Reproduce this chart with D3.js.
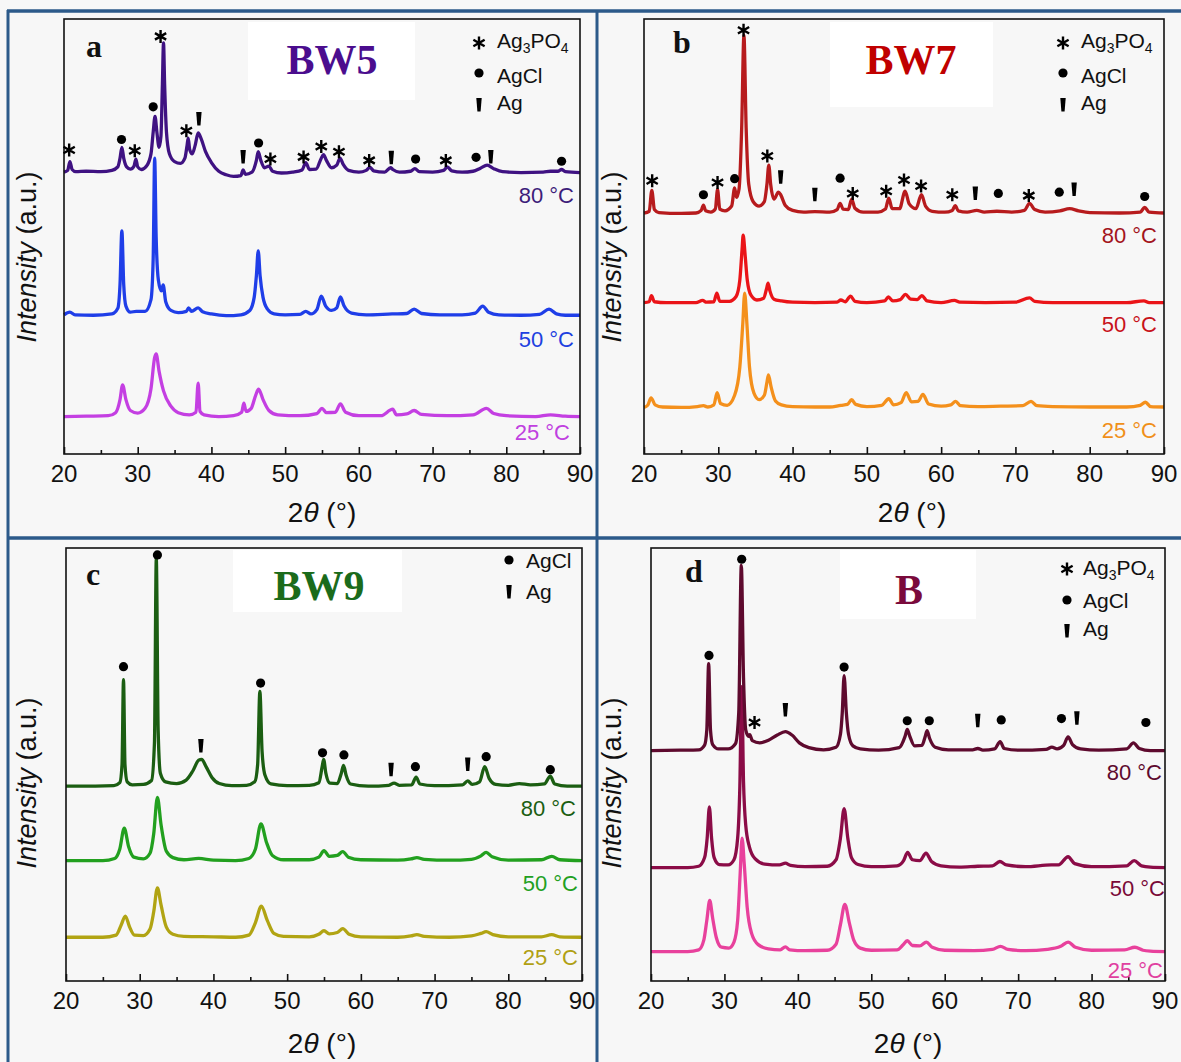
<!DOCTYPE html>
<html><head><meta charset="utf-8">
<script src="https://cdnjs.cloudflare.com/ajax/libs/d3/7.8.5/d3.min.js"></script>
<style>body{margin:0;background:#fff}svg{display:block}</style>
</head><body><svg id="chart" width="1181" height="1062"></svg>
<script>
// ---------------- DATA ----------------
const xTicks = [20,30,40,50,60,70,80,90];
const xMinorTicks = [25,35,45,55,65,75,85];
const temperatureLabels = ["80 °C","50 °C","25 °C"];
const panelLetters = ["a","b","c","d"];
const sampleNames = ["BW5","BW7","BW9","B"];

// Panel a: BW5 (2θ, intensity a.u. incl. stacking offset)
const bw5_80 = [[20,64.8],[20.5,65.2],[20.8,67.2],[21.1,65.4],[21.6,64.9],[23,65],[25,64.9],[26.5,65.2],[27.3,66],[27.6,68],[27.85,70.5],[28.1,68],[28.5,66],[29,65.5],[29.5,66.2],[29.75,67.8],[30,66],[30.5,65.4],[31.2,66.2],[31.8,69],[32.1,74],[32.35,77.6],[32.6,74],[32.9,70.5],[33.15,73],[33.35,85],[33.5,94.5],[33.65,85],[33.9,74],[34.3,69],[35,67.2],[35.8,66.8],[36.4,68],[36.7,71],[36.85,72.6],[37.05,70],[37.4,69],[37.8,71],[38.2,73.8],[38.6,72.5],[39.2,69.5],[40,67],[41,65],[42,64.2],[43,63.8],[44,64],[44.3,65.3],[44.6,64.3],[45.5,64.8],[46.1,67.5],[46.35,69.5],[46.7,67.5],[47.2,65.8],[47.8,66.2],[48.3,65],[49.5,64.6],[51,64.8],[52.3,65.3],[52.8,67],[53.3,65.4],[54.2,65.5],[54.9,68],[55.2,68.8],[55.6,67.5],[56.3,65.8],[57,66.4],[57.45,68],[57.9,66.5],[58.6,65.2],[60,64.8],[61,65.2],[61.5,65.9],[62,65.1],[63.5,64.8],[64.3,65.8],[64.6,65.4],[65.5,64.8],[67,65],[67.6,65.6],[68.2,64.9],[70,64.8],[71.5,65.2],[72,66],[72.6,65.1],[74,64.8],[75.5,65],[76.5,65.7],[77.4,66.4],[78.3,65.6],[79.5,64.9],[82,64.7],[85,64.8],[86,65],[87,65],[87.5,65.4],[88,64.9],[90,64.7]];
const bw5_50 = [[20,32],[20.8,32.6],[21.5,32],[24,31.9],[26.5,32.2],[27.3,33.5],[27.6,39],[27.85,51.3],[28.1,39],[28.4,34],[29,32.6],[29.8,32.8],[31,32.8],[31.8,35.5],[32.1,45],[32.3,68],[32.5,50],[32.8,40],[33.2,37.5],[33.45,38.9],[33.8,35],[34.5,33],[35.5,32.5],[36.6,32.8],[36.9,33.6],[37.3,32.8],[38.2,33.6],[38.8,32.7],[40,32.2],[42,31.8],[44,32],[45.2,33],[45.8,36],[46.1,41],[46.35,46.7],[46.6,41],[47,36],[47.6,33.3],[48.5,32.2],[50,32],[52,32.1],[52.8,32.8],[53.5,32.2],[54.3,33.2],[54.9,36.3],[55.5,34],[56.3,33],[57,33.6],[57.5,36.1],[58,34],[59,32.4],[61,32],[64.5,32.2],[66.5,32.3],[67.5,33.3],[68.5,32.3],[71,32],[74,32],[75.8,32.4],[76.8,34],[77.6,32.6],[79,32],[82,31.9],[84.5,32.1],[85.8,33.3],[86.8,32.2],[88,31.9],[90,31.9]];
const bw5_25 = [[20,8.6],[23,8.7],[26,8.8],[27,9.5],[27.6,12.5],[27.95,15.9],[28.4,12.5],[29,10],[30,9.4],[31,10.5],[31.8,15],[32.3,22.2],[32.5,23],[32.9,19],[33.5,14.5],[34.5,11],[35.5,9.5],[37,9],[37.9,9.6],[38.2,16.3],[38.45,9.8],[39,9],[41,8.6],[43,8.8],[44.1,9.6],[44.4,11.7],[44.7,9.8],[45.4,10.5],[46,13.5],[46.4,14.9],[47,12.5],[47.8,10],[49,9],[52,8.8],[54.3,9.3],[55,10.5],[55.6,9.5],[56.8,9.6],[57.5,11.5],[58.2,9.6],[60,8.8],[63,8.8],[64.6,10.3],[65.1,9],[66.5,9.2],[67.5,10],[68.5,9.1],[72,8.8],[75.5,9],[77.3,10.5],[78.3,9.3],[80,8.8],[84,8.6],[86,9],[88,8.7],[90,8.6]];

// Panel b: BW7
const bw7_80 = [[20,55.4],[20.7,55.8],[21.05,60.6],[21.4,56.2],[22,55.5],[25,55.3],[27,55.4],[27.7,56],[28,57.2],[28.3,55.9],[29,55.6],[29.6,56.3],[29.9,60.8],[30.2,56.3],[30.9,55.9],[31.8,57],[32.2,61.2],[32.45,59],[32.8,61],[33.15,75],[33.45,96.3],[33.75,75],[34.1,62],[34.7,58],[35.5,57],[36.2,58],[36.55,62],[36.8,66.4],[37.05,62],[37.5,58.6],[38.1,60.2],[38.4,59.6],[39,57.2],[40,56],[41.5,55.6],[43,55.7],[45,55.6],[46,56.2],[46.4,57.6],[46.8,56.3],[47.5,56.2],[47.95,58.6],[48.4,56.5],[49.5,55.6],[51.5,55.6],[52.5,56.3],[52.95,58.8],[53.4,56.4],[54.4,56.4],[55.15,60.4],[55.7,57.5],[56.6,56.4],[57.35,59.6],[57.9,57],[58.8,55.8],[60.5,55.6],[61.5,56],[61.9,57.1],[62.3,55.9],[63.5,55.6],[64.8,56],[65.8,55.6],[67.5,55.8],[69.5,55.6],[71.2,56],[71.9,57.6],[72.6,56.2],[74,55.6],[76,55.9],[77.3,56.4],[78.5,55.9],[80,55.5],[84,55.4],[86.8,55.6],[87.4,56.7],[88,55.6],[90,55.4]];
const bw7_50 = [[20,34.8],[20.7,35],[21,36.4],[21.4,35],[23,34.8],[27,34.8],[27.9,35.3],[28.4,34.9],[29.4,35],[29.8,37],[30.2,35.1],[31.5,35.1],[32.4,36.2],[32.9,40],[33.2,47],[33.35,50.3],[33.6,46],[33.9,40],[34.4,36.5],[35.2,35.4],[36.1,35.8],[36.5,38],[36.7,39.3],[36.95,37.5],[37.5,35.6],[38.5,35.2],[40,34.9],[43,34.8],[46,34.9],[46.5,35.4],[47.1,35],[47.8,36.3],[48.4,35.1],[50,34.8],[52.4,35.2],[52.9,36.1],[53.5,35.2],[54.5,35.5],[55.2,36.7],[55.9,35.6],[56.8,35.5],[57.4,36.4],[58.1,35.2],[60,34.8],[61.8,35.3],[62.5,34.9],[66,34.8],[70,34.9],[71.9,35.9],[72.6,35.1],[75,34.8],[80,34.8],[85,34.8],[87.3,35.2],[88,34.8],[90,34.8]];
const bw7_25 = [[20,10.7],[20.5,11.2],[20.95,12.9],[21.5,11.3],[22.5,10.8],[25,10.7],[27.2,10.9],[28,11.1],[28.6,10.8],[29.4,11.3],[29.85,14.1],[30.3,11.6],[31.2,11.2],[32.2,13.5],[32.9,20],[33.3,30],[33.55,37],[33.85,30],[34.2,20],[34.8,14],[35.5,12.5],[36.2,13.5],[36.55,16.5],[36.75,18.2],[37.1,15.5],[37.7,12.2],[38.5,11.3],[40,10.9],[43,10.8],[45,10.8],[46.5,11.2],[47.4,11.4],[47.95,12.5],[48.5,11.4],[50,10.9],[52,11.2],[52.95,12.7],[53.6,11.3],[54.6,11.8],[55.3,14.1],[56,12],[56.9,12.1],[57.55,13.7],[58.3,11.5],[60,11],[61.3,11.3],[61.95,12.1],[62.6,11.1],[65,10.9],[68,11],[71,11.1],[72.1,12.1],[72.9,11.1],[75,10.9],[80,10.8],[85,10.8],[86.8,11.2],[87.5,11.9],[88.2,10.9],[90,10.8]];

// Panel c: BW9
const bw9_80 = [[20,45],[24,45],[26.5,45.1],[27.3,45.8],[27.6,50],[27.8,69.6],[28.0,50],[28.3,46],[29,45.3],[30.5,45.4],[31.6,46.3],[32.0,55],[32.25,97.5],[32.5,58],[32.8,48],[33.5,46],[35,45.6],[36.3,46.4],[37.2,48.5],[38.0,51],[38.4,51.2],[39,49.5],[39.8,47],[40.8,45.6],[42.5,45.1],[44.5,45.2],[45.6,46],[46.0,50],[46.3,66.9],[46.6,53],[47,47.5],[47.8,45.5],[50,45.1],[53,45.2],[54.3,45.8],[54.75,49.5],[54.95,51.2],[55.25,48],[55.8,45.7],[56.8,45.6],[57.35,48],[57.65,49.8],[58,47.5],[58.6,45.5],[61,45],[63.8,45.2],[64.5,45.7],[65.2,45.2],[66.9,45.3],[67.5,47.1],[68,45.5],[70,45.1],[73.8,45.3],[74.5,46.2],[75.1,45.4],[76.1,46],[76.8,49.5],[77.4,46.8],[78.3,45.4],[80,45.2],[81.5,45.6],[83,45.3],[84.9,45.5],[85.7,47.3],[86.3,45.5],[88,45],[90,45]];
const bw9_50 = [[20,27.8],[25,27.8],[26.6,28.3],[27.3,30.5],[27.9,35.3],[28.5,31],[29.2,28.6],[30.5,28.2],[31.4,29.5],[31.9,34],[32.4,42.4],[32.9,36],[33.6,30],[34.5,28.5],[36,28],[38,28.3],[40,27.9],[43,27.8],[44.8,28.3],[45.7,30.5],[46.45,36.3],[47.2,32],[48,29],[49.5,28],[53,28],[54.3,28.6],[55,30.1],[55.7,28.8],[56.8,29],[57.55,29.9],[58.3,28.6],[60,28],[65,27.9],[66.8,28.2],[67.6,28.5],[68.6,28.1],[72,27.9],[75,28.1],[76.3,28.9],[77,29.7],[77.8,28.7],[80,27.9],[84.5,28],[85.9,28.8],[87,28],[90,27.8]];
const bw9_25 = [[20,10.1],[25,10.1],[26.8,10.6],[27.5,13],[28.05,15],[28.6,12.6],[29.3,10.6],[30.5,10.5],[31.4,12],[31.9,16],[32.4,21.5],[32.9,17.5],[33.6,12.5],[34.5,10.8],[36,10.3],[40,10.2],[43,10.1],[44.8,10.6],[45.7,13.5],[46.5,17.3],[47.3,14],[48.2,11],[49.5,10.3],[53,10.2],[54.3,10.8],[55,11.6],[55.7,10.9],[56.8,11.2],[57.55,12.1],[58.4,10.8],[60,10.2],[65,10.1],[66.8,10.4],[67.6,10.7],[68.6,10.3],[72,10.1],[75,10.4],[76.3,11],[77,11.4],[77.9,10.7],[80,10.2],[84.5,10.2],[85.9,10.7],[87,10.2],[90,10.1]];

// Panel d: B
const b_80 = [[20,53.2],[24,53.3],[26.5,53.4],[27.3,54.5],[27.6,58],[27.85,73.3],[28.1,58],[28.4,54.6],[29.2,53.6],[30.5,53.6],[31.5,54.8],[31.95,62],[32.3,96],[32.6,70],[32.9,58],[33.3,56.5],[33.45,56.9],[33.8,55.5],[34.8,55],[36,55.6],[37.2,56.8],[38.3,57.6],[39.2,56.8],[40.2,55],[41.5,53.9],[43.5,53.4],[45.2,54],[45.8,57],[46.05,62],[46.3,70.5],[46.6,62],[46.9,57],[47.5,54.3],[48.5,53.6],[51,53.3],[53.8,53.9],[54.6,56.5],[54.9,58.1],[55.25,56.5],[55.9,54.3],[56.9,54.4],[57.35,56.5],[57.6,57.8],[57.95,56],[58.7,54],[60.5,53.4],[63.8,53.4],[64.5,53.7],[65.2,53.3],[66.8,53.6],[67.55,55.3],[68.1,53.7],[70,53.3],[73.8,53.5],[74.6,54],[75.3,53.6],[76.2,54.4],[76.8,56.4],[77.4,54.6],[78.5,53.6],[81,53.3],[84.8,53.6],[85.7,55],[86.5,53.7],[88,53.2],[90,53.2]];
const b_50 = [[20,26.2],[25,26.2],[26.5,26.5],[27.3,28.5],[27.65,33],[27.95,40.2],[28.25,33],[28.6,28.5],[29.3,26.9],[30.5,26.8],[31.3,28],[31.8,33],[32.1,45],[32.35,68],[32.6,46],[32.9,36],[33.4,31],[34.2,28.2],[35.5,27],[37.5,26.8],[38.3,27.2],[39,26.7],[41,26.4],[44,26.5],[45.2,28],[45.8,33],[46.3,39.8],[46.8,33],[47.3,28.5],[48.2,26.9],[50,26.4],[53.5,26.6],[54.4,27.8],[54.95,29.7],[55.6,28],[56.6,27.8],[57.45,29.5],[58.2,27.6],[59.5,26.6],[62,26.3],[64.5,26.5],[66.5,26.6],[67.5,27.6],[68.4,26.8],[71,26.4],[74.5,26.8],[75.5,26.8],[76.8,28.7],[77.7,27.1],[80,26.4],[84.8,26.6],[85.8,27.8],[86.8,26.6],[88,26.3],[90,26.2]];
const b_25 = [[20,6.8],[25,6.8],[26.5,7.2],[27.2,9.5],[27.6,14],[28.0,18.6],[28.4,14.5],[28.9,10],[29.6,7.8],[30.6,7.6],[31.3,9],[31.8,14],[32.15,25],[32.4,33],[32.7,27],[33.1,17],[33.7,11],[34.6,8.4],[36,7.4],[37.6,7.2],[38.3,7.9],[38.9,7.2],[41,7],[44,7.1],[45.2,8.5],[45.8,13],[46.4,17.7],[47,13.5],[47.6,9.5],[48.5,7.6],[50,7.1],[53.5,7.2],[54.3,8.3],[54.9,9.3],[55.6,8.2],[56.6,8.1],[57.5,9],[58.3,7.8],[60,7.1],[64,7],[66.5,7.3],[67.6,8],[68.6,7.3],[71,7],[74,7.3],[75.8,8],[76.8,9],[77.8,7.8],[80,7.1],[84.5,7.2],[85.9,7.8],[87,7.1],[88,6.9],[90,6.8]];

// Phase markers: [2θ, a.u. position, phase]  s = Ag3PO4, d = AgCl, b = Ag
const bw5_markers = [[20.7,69.9,"s"],[27.8,72.3,"d"],[29.6,69.7,"s"],[32.1,79.8,"d"],[33.1,96.0,"s"],[36.6,74.3,"s"],[38.3,77.0,"b"],[44.3,68.3,"b"],[46.4,71.5,"d"],[48.0,67.8,"s"],[52.5,68.3,"s"],[54.9,70.7,"s"],[57.3,69.5,"s"],[61.4,67.5,"s"],[64.4,68.1,"b"],[67.7,67.8,"d"],[71.8,67.5,"s"],[75.9,68.2,"d"],[77.9,68.3,"b"],[87.5,67.3,"d"]];
const bw7_markers = [[21.1,62.8,"s"],[28.0,59.6,"d"],[29.9,62.4,"s"],[32.2,63.3,"d"],[33.4,97.4,"s"],[36.6,68.5,"s"],[38.4,63.6,"b"],[43.0,59.6,"b"],[46.4,63.4,"d"],[48.1,59.9,"s"],[52.6,60.4,"s"],[55.0,63.0,"s"],[57.3,61.6,"s"],[61.5,59.6,"s"],[64.6,59.9,"b"],[67.7,59.9,"d"],[71.8,59.4,"s"],[75.9,60.2,"d"],[77.9,60.8,"b"],[87.4,59.2,"d"]];
const bw9_markers = [[27.8,72.6,"d"],[32.4,98.4,"d"],[38.3,54.3,"b"],[46.4,68.8,"d"],[54.8,52.7,"d"],[57.7,52.2,"d"],[64.1,48.8,"b"],[67.4,49.5,"d"],[74.5,50.0,"b"],[77.0,51.8,"d"],[85.7,48.8,"d"]];
const b_markers = [[27.9,75.2,"d"],[32.35,97.4,"d"],[34.1,59.7,"s"],[38.3,62.6,"b"],[46.3,72.5,"d"],[54.9,60.1,"d"],[57.9,60.1,"d"],[64.5,60.1,"b"],[67.7,60.3,"d"],[75.9,60.6,"d"],[78.0,60.7,"b"],[87.4,59.7,"d"]];

const legendPhases = [["s","d","b"],["s","d","b"],["d","b"],["s","d","b"]];

// ---------------- STYLE / LAYOUT ----------------
const panels = [
  {series:[bw5_80,bw5_50,bw5_25], markers:bw5_markers, colors:["#3f1282","#1f3ee8","#c43fe2"], labelColors:["#3d1d7a","#2040e0","#c040e0"], titleColor:"#4b0d8e",
   x0:64,x1:580,y0:19,y1:454, tickY:482, xTitle:[322,522], yTitle:[27,257], letter:[94,57], box:[248,22,167,78], titleXY:[332,74],
   labels:[[574,195],[574,339],[570,432]], legend:[479,497,[43,73,105],[48,83,110]]},
  {series:[bw7_80,bw7_50,bw7_25], markers:bw7_markers, colors:["#b71b1d","#ea1418","#f4901c"], labelColors:["#a3141c","#c8121a","#f0901a"], titleColor:"#c00000",
   x0:644,x1:1164,y0:19,y1:454, tickY:482, xTitle:[912,522], yTitle:[612,257], letter:[682,53], box:[830,22,163,85], titleXY:[911,74],
   labels:[[1157,235],[1157,324],[1157,430]], legend:[1063,1081,[43,73,105],[48,83,110]]},
  {series:[bw9_80,bw9_50,bw9_25], markers:bw9_markers, colors:["#1b5e12","#22a01f","#b1a413"], labelColors:["#1b5e12","#22a01f","#b0a014"], titleColor:"#1b6b1b",
   x0:66,x1:582,y0:548,y1:981, tickY:1009, xTitle:[322,1053], yTitle:[27,783], letter:[93,585], box:[233,550,169,62], titleXY:[319,600],
   labels:[[576,808],[578,883],[578,957]], legend:[509,526,[560,592],[568,599]]},
  {series:[b_80,b_50,b_25], markers:b_markers, colors:["#5e0a2e","#8b0c47","#e8419c"], labelColors:["#5e0a2e","#7a0a38","#e040a0"], titleColor:"#7a0a3c",
   x0:651,x1:1165,y0:548,y1:981, tickY:1009, xTitle:[908,1053], yTitle:[612,783], letter:[694,582], box:[840,550,136,69], titleXY:[909,604],
   labels:[[1162,772],[1165,888],[1163,970]], legend:[1067,1083,[569,600,631],[575,608,636]]}
];

const FONT = "Arial, 'Liberation Sans', Helvetica, sans-serif";
const SERIF = "'Times New Roman', 'Liberation Serif', serif";
const svg = d3.select("#chart");

svg.append("rect").attr("width",1181).attr("height",1062).attr("fill","#f7f7f7");

function drawMarker(g, type, x, y) {
  if (type === "s") {
    const r = 6.5, c = 0.866*r, h = 0.5*r;
    g.append("path")
      .attr("d", `M${x},${y-r}L${x},${y+r}M${x-c},${y-h}L${x+c},${y+h}M${x-c},${y+h}L${x+c},${y-h}`)
      .attr("stroke","#000").attr("stroke-width",2.4).attr("fill","none");
  } else if (type === "d") {
    g.append("circle").attr("cx",x).attr("cy",y).attr("r",4.6).attr("fill","#000");
  } else {
    g.append("path")
      .attr("d", `M${x-2.7},${y-7}L${x+2.7},${y-7}L${x+1.6},${y+6.5}L${x-1.6},${y+6.5}Z`)
      .attr("fill","#000");
  }
}

panels.forEach((p, i) => {
  const g = svg.append("g");
  const x = d3.scaleLinear().domain([20,90]).range([p.x0,p.x1]);
  const y = d3.scaleLinear().domain([0,100]).range([p.y1,p.y0]);

  // title box
  g.append("rect").attr("x",p.box[0]).attr("y",p.box[1]).attr("width",p.box[2]).attr("height",p.box[3]).attr("fill","#fff");

  // curves (25 first, 80 on top)
  const line = d3.line().x(d=>x(d[0])).y(d=>y(d[1])).curve(d3.curveMonotoneX);
  [2,1,0].forEach(k => {
    g.append("path").datum(p.series[k]).attr("d",line)
      .attr("fill","none").attr("stroke",p.colors[k]).attr("stroke-width",3.3)
      .attr("stroke-linejoin","round");
  });

  // frame
  g.append("rect").attr("x",p.x0).attr("y",p.y0).attr("width",p.x1-p.x0).attr("height",p.y1-p.y0)
    .attr("fill","none").attr("stroke","#111").attr("stroke-width",1.6);

  // x axis with inward ticks
  const ax = g.append("g").attr("transform",`translate(0,${p.y1})`)
    .call(d3.axisBottom(x).tickValues(xTicks).tickSize(-7).tickPadding(0).tickFormat(""));
  ax.select(".domain").remove();
  ax.selectAll("line").attr("stroke","#111").attr("stroke-width",1.6);
  const axm = g.append("g").attr("transform",`translate(0,${p.y1})`)
    .call(d3.axisBottom(x).tickValues(xMinorTicks).tickSize(-4).tickFormat(""));
  axm.select(".domain").remove();
  axm.selectAll("line").attr("stroke","#111").attr("stroke-width",1.6);

  g.selectAll(".tlab").data(xTicks).enter().append("text")
    .attr("x",d=>x(d)).attr("y",p.tickY).attr("text-anchor","middle")
    .attr("font-family",FONT).attr("font-size",24).attr("fill","#111").text(d=>d);

  // axis titles
  const xt = g.append("text").attr("x",p.xTitle[0]).attr("y",p.xTitle[1]).attr("text-anchor","middle")
    .attr("font-family",FONT).attr("font-size",28).attr("fill","#111");
  xt.append("tspan").text("2");
  xt.append("tspan").attr("font-style","italic").text("θ");
  xt.append("tspan").text(" (°)");

  const yt = g.append("text").attr("transform",`translate(${p.yTitle[0]},${p.yTitle[1]}) rotate(-90)`)
    .attr("text-anchor","middle").attr("dominant-baseline","central")
    .attr("font-family",FONT).attr("font-size",27).attr("fill","#111");
  yt.append("tspan").attr("font-style","italic").text("Intensity");
  yt.append("tspan").text(" (a.u.)");

  // panel letter and sample title
  g.append("text").attr("x",p.letter[0]).attr("y",p.letter[1]).attr("text-anchor","middle")
    .attr("font-family",SERIF).attr("font-weight","bold").attr("font-size",32).attr("fill","#111").text(panelLetters[i]);
  g.append("text").attr("x",p.titleXY[0]).attr("y",p.titleXY[1]).attr("text-anchor","middle")
    .attr("font-family",SERIF).attr("font-weight","bold").attr("font-size",42).attr("fill",p.titleColor).text(sampleNames[i]);

  // temperature labels
  temperatureLabels.forEach((t,k) => {
    g.append("text").attr("x",p.labels[k][0]).attr("y",p.labels[k][1]).attr("text-anchor","end")
      .attr("dominant-baseline","central").attr("font-family",FONT).attr("font-size",22)
      .attr("fill",p.labelColors[k]).text(t);
  });

  // phase markers
  p.markers.forEach(m => drawMarker(g, m[2], x(m[0]), y(m[1])));

  // legend
  legendPhases[i].forEach((ph,k) => {
    drawMarker(g, ph, p.legend[0], p.legend[2][k]);
    const t = g.append("text").attr("x",p.legend[1]).attr("y",p.legend[3][k])
      .attr("font-family",FONT).attr("font-size",21).attr("fill","#111");
    if (ph === "s") {
      t.append("tspan").text("Ag");
      t.append("tspan").attr("font-size",14).attr("dy",5).text("3");
      t.append("tspan").attr("dy",-5).text("PO");
      t.append("tspan").attr("font-size",14).attr("dy",5).text("4");
    } else if (ph === "d") t.text("AgCl");
    else t.text("Ag");
  });
});

// panel borders
const bc = "#2c5a8a";
[[8,10,8,1062],[597,10,597,1062]].forEach(l=>svg.append("line").attr("x1",l[0]).attr("y1",l[1]).attr("x2",l[2]).attr("y2",l[3]).attr("stroke",bc).attr("stroke-width",3));
[[7,11,1181,11],[7,538,1181,538]].forEach(l=>svg.append("line").attr("x1",l[0]).attr("y1",l[1]).attr("x2",l[2]).attr("y2",l[3]).attr("stroke",bc).attr("stroke-width",3.5));
</script>
</body></html>
